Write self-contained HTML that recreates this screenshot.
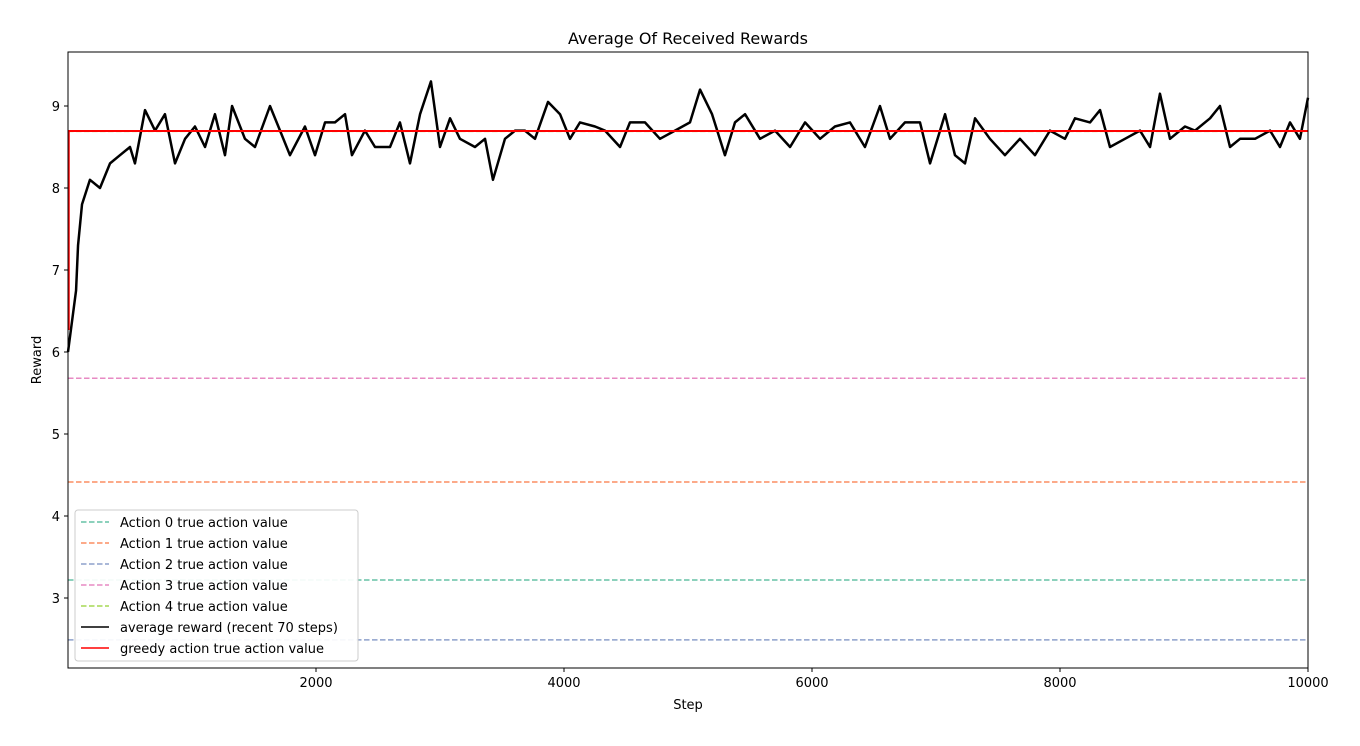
<!DOCTYPE html>
<html><head><meta charset="utf-8"><style>
body{margin:0;background:#fff;font-family:"Liberation Sans","DejaVu Sans",sans-serif}
svg text{font-family:"DejaVu Sans","Liberation Sans",sans-serif}
</style></head><body>
<svg id="chart" width="1360" height="741" xmlns="http://www.w3.org/2000/svg">
<rect width="1360" height="741" fill="#fff"/>
<text x="688" y="44" font-size="16" text-anchor="middle">Average Of Received Rewards</text>
<g id="plot"></g>
<rect x="68" y="52" width="1240" height="616" fill="none" stroke="#000" stroke-width="1"/>
<g id="ticks"></g>
<text x="688" y="709" font-size="13" text-anchor="middle">Step</text>
<text x="41" y="360" font-size="13" text-anchor="middle" transform="rotate(-90 41 360)">Reward</text>
<g id="legend"></g>
</svg>
<script>
const actionValues=[3.22,4.415,2.49,5.68,8.69];
const actionColors=["#66c2a5","#fc8d62","#8da0cb","#e78ac3","#a6d854"];
const greedyValue=8.695;
const xTicks=[2000,4000,6000,8000,10000];
const yTicks=[3,4,5,6,7,8,9];
const avgPx=[68,76,78,82,90,100,110,120,130,135,145,155,165,175,185,195,205,215,225,232,245,255,270,280,290,305,315,325,335,345,352,365,375,390,400,410,420,431,440,450,460,475,485,493,505,515,525,535,548,560,570,580,595,605,620,630,645,660,675,690,700,712,725,735,745,760,775,790,805,820,835,850,865,880,890,905,920,930,945,955,965,975,990,1005,1020,1035,1050,1065,1075,1090,1100,1110,1125,1140,1150,1160,1170,1185,1195,1210,1220,1230,1240,1255,1270,1280,1290,1300,1308];
const avgSteps=avgPx.map(p=>Math.round((p-68)/0.124));
const avgValues=[6.0,6.75,7.3,7.8,8.1,8.0,8.3,8.4,8.5,8.3,8.95,8.7,8.9,8.3,8.6,8.75,8.5,8.9,8.4,9.0,8.6,8.5,9.0,8.7,8.4,8.75,8.4,8.8,8.8,8.9,8.4,8.7,8.5,8.5,8.8,8.3,8.9,9.3,8.5,8.85,8.6,8.5,8.6,8.1,8.6,8.7,8.7,8.6,9.05,8.9,8.6,8.8,8.75,8.7,8.5,8.8,8.8,8.6,8.7,8.8,9.2,8.9,8.4,8.8,8.9,8.6,8.7,8.5,8.8,8.6,8.75,8.8,8.5,9.0,8.6,8.8,8.8,8.3,8.9,8.4,8.3,8.85,8.6,8.4,8.6,8.4,8.7,8.6,8.85,8.8,8.95,8.5,8.6,8.7,8.5,9.15,8.6,8.75,8.7,8.85,9.0,8.5,8.6,8.6,8.7,8.5,8.8,8.6,9.1];
const NS="http://www.w3.org/2000/svg";
const X=s=>68+s*0.124, Y=v=>106+(9-v)*82;
function mk(t,a,p){const e=document.createElementNS(NS,t);for(const k in a)e.setAttribute(k,a[k]);p.appendChild(e);return e;}
const plot=document.getElementById('plot');
actionValues.forEach((v,i)=>{const l=mk('line',{x1:68,x2:1308,y1:Y(v),y2:Y(v),stroke:actionColors[i],'stroke-width':1.5,'stroke-dasharray':'5.5,2.5'},plot);

});
const pl=mk('polyline',{points:avgSteps.map((s,i)=>X(s)+','+Y(avgValues[i])).join(' '),fill:'none',stroke:'#000','stroke-width':2.5,'stroke-linejoin':'round'},plot);


const rv=mk('line',{x1:69,x2:69,y1:330,y2:Y(greedyValue),stroke:'#f00','stroke-width':1.5},plot);


const rl=mk('line',{x1:68,x2:1308,y1:Y(greedyValue),y2:Y(greedyValue),stroke:'#f00','stroke-width':2},plot);


const tk=document.getElementById('ticks');
xTicks.forEach(t=>{mk('line',{x1:X(t),x2:X(t),y1:668,y2:672,stroke:'#000'},tk);
const tx=mk('text',{x:X(t),y:687,'font-size':13,'text-anchor':'middle'},tk);tx.textContent=t;

});
yTicks.forEach(t=>{mk('line',{x1:64,x2:68,y1:Y(t),y2:Y(t),stroke:'#000'},tk);
const tx=mk('text',{x:60,y:Y(t)+5,'font-size':13,'text-anchor':'end'},tk);tx.textContent=t;

});
const lg=document.getElementById('legend');
mk('rect',{x:75,y:510,width:283,height:151,rx:3,fill:'#fff','fill-opacity':0.92,stroke:'#ccc'},lg);
const labels=["Action 0 true action value","Action 1 true action value","Action 2 true action value","Action 3 true action value","Action 4 true action value","average reward (recent 70 steps)","greedy action true action value"];
const cols=actionColors.concat(["#000","#f00"]);
labels.forEach((s,i)=>{const y=522+i*21;
mk('line',{x1:81,x2:109,y1:y,y2:y,stroke:cols[i],'stroke-width':1.5,'stroke-dasharray':i<5?'5.5,2.5':'none'},lg);
const t=mk('text',{x:120,y:y+5,'font-size':13},lg);t.textContent=s;

});
</script>
</body></html>
